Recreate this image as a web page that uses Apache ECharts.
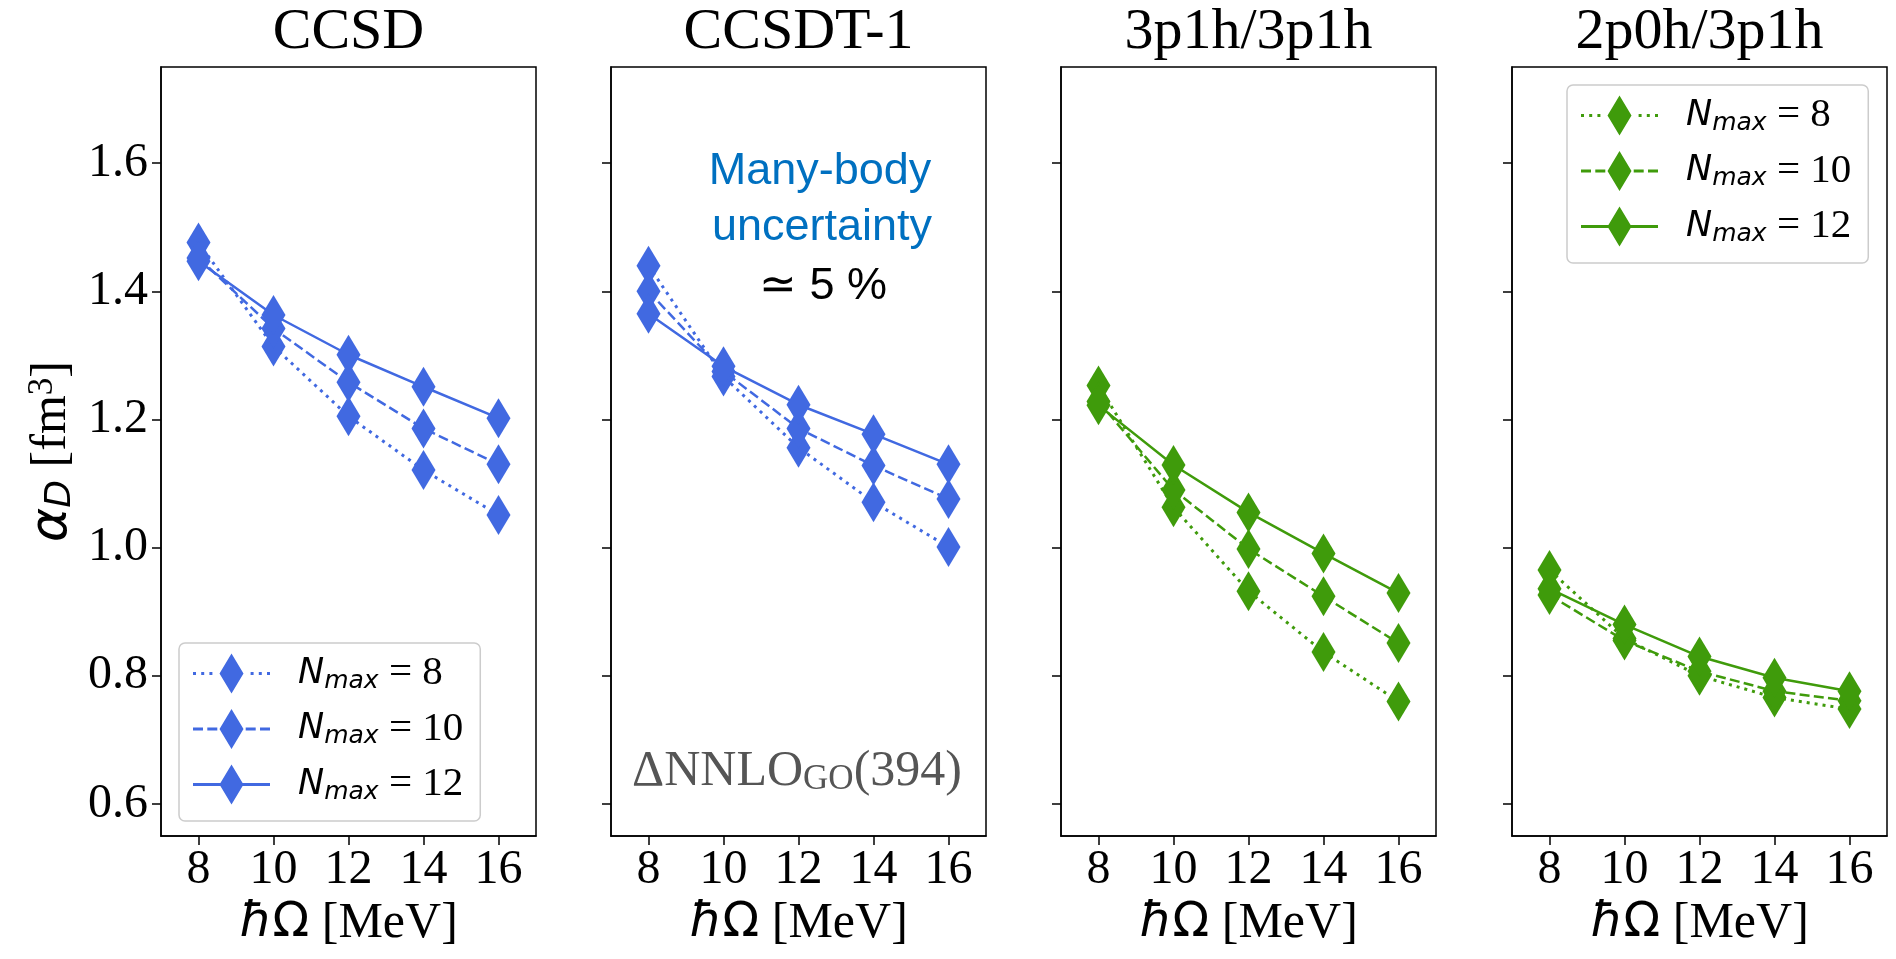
<!DOCTYPE html>
<html>
<head>
<meta charset="utf-8">
<title>alpha_D vs hbar Omega</title>
<script src="https://cdn.jsdelivr.net/npm/echarts@6.0.0/dist/echarts.min.js"></script>
<style>
    html, body { margin: 0; padding: 0; background: #fff; }
    #chart { width: 1896px; height: 959px; }
</style>
</head>
<body>
<div id="chart"></div>
<script>
var hw = [8, 10, 12, 14, 16];
var xTicks = [8, 10, 12, 14, 16];
var yTicks = [0.6, 0.8, 1.0, 1.2, 1.4, 1.6];
var panelTitles = ['CCSD', 'CCSDT-1', '3p1h/3p1h', '2p0h/3p1h'];
var nmaxList = [8, 10, 12];

// alpha_D [fm^3] per Nmax
var ccsdN8   = [1.476, 1.314, 1.205, 1.121, 1.051];
var ccsdN10  = [1.452, 1.342, 1.258, 1.186, 1.130];
var ccsdN12  = [1.447, 1.363, 1.301, 1.251, 1.202];

var ccsdtN8  = [1.440, 1.267, 1.156, 1.071, 1.001];
var ccsdtN10 = [1.400, 1.275, 1.186, 1.128, 1.076];
var ccsdtN12 = [1.365, 1.283, 1.223, 1.177, 1.130];

var p31N8    = [1.253, 1.063, 0.932, 0.837, 0.760];
var p31N10   = [1.228, 1.090, 0.998, 0.924, 0.851];
var p31N12   = [1.222, 1.129, 1.055, 0.991, 0.929];

var p20N8    = [0.965, 0.858, 0.800, 0.766, 0.748];
var p20N10   = [0.926, 0.855, 0.807, 0.776, 0.761];
var p20N12   = [0.936, 0.880, 0.830, 0.797, 0.776];

(function()
{
    var blue = '#4169e1';
    var green = '#3f9b0b';
    var serif = "'Liberation Serif', 'Times New Roman', serif";
    var sans = "'DejaVu Sans', sans-serif";

    var panelData = [
        [ccsdN8, ccsdN10, ccsdN12],
        [ccsdtN8, ccsdtN10, ccsdtN12],
        [p31N8, p31N10, p31N12],
        [p20N8, p20N10, p20N12]
    ];
    var panelColors = [blue, blue, green, green];
    var gridLeft = [161, 611, 1061, 1512];
    var gridTop = 67, gridW = 375, gridH = 769;
    var dashTypes = [[3, 5], [10, 4.3], 'solid'];

    // legend icon: line sample + thin diamond, drawn as one filled path (77 x 40)
    var diamond = 'M26.5 20L38.5 0L50.5 20L38.5 40Z';
    function bar(x0, x1) {
        return 'M' + x0 + ' 18.5H' + x1 + 'V21.5H' + x0 + 'Z';
    }
    var legendIcons = [
        'path://' + bar(0, 3) + bar(8.2, 11.2) + bar(16.4, 19.4) + bar(57.6, 60.6) + bar(65.8, 68.8) + bar(74, 77) + diamond,
        'path://' + bar(0, 10) + bar(14.3, 24.3) + bar(52.7, 62.7) + bar(67, 77) + diamond,
        'path://' + bar(0, 77) + diamond
    ];

    var grids = [], xAxes = [], yAxes = [], series = [];
    var legendNames = [[], [], [], []];
    var nmaxOf = {};

    for (var p = 0; p < 4; p++) {
        grids.push({
            left: gridLeft[p], top: gridTop, width: gridW, height: gridH,
            show: true, borderColor: '#000', borderWidth: 1.5,
            containLabel: false, outerBoundsMode: 'none'
        });
        xAxes.push({
            type: 'value', gridIndex: p, min: 7, max: 17,
            splitLine: { show: false },
            axisLine: { show: true, onZero: false, lineStyle: { color: '#000', width: 1.5 } },
            axisTick: { show: true, length: 9, customValues: xTicks, lineStyle: { color: '#000', width: 1.5 } },
            axisLabel: { customValues: xTicks, fontFamily: serif, fontSize: 48, color: '#000', margin: 10 },
            name: '{h|ħ}{o|Ω}{t| [MeV]}',
            nameLocation: 'middle', nameGap: 62,
            nameTextStyle: {
                rich: {
                    h: { fontFamily: sans, fontStyle: 'italic', fontSize: 48, color: '#000' },
                    o: { fontFamily: sans, fontSize: 48, color: '#000' },
                    t: { fontFamily: serif, fontSize: 50, color: '#000' }
                }
            }
        });
        var yAxis = {
            type: 'value', gridIndex: p, min: 0.55, max: 1.75,
            splitLine: { show: false },
            axisLine: { show: true, onZero: false, lineStyle: { color: '#000', width: 1.5 } },
            axisTick: { show: true, length: 9, customValues: yTicks, lineStyle: { color: '#000', width: 1.5 } },
            axisLabel: {
                show: p === 0, customValues: yTicks, fontFamily: serif, fontSize: 48, color: '#000', margin: 13,
                formatter: function (v) { return v.toFixed(1); }
            }
        };
        if (p === 0) {
            yAxis.name = '{a|α}{d|D}{b| [fm}{c|3}{b|]}';
            yAxis.nameLocation = 'middle';
            yAxis.nameGap = 82;
            yAxis.nameTextStyle = {
                rich: {
                    a: { fontFamily: sans, fontStyle: 'italic', fontSize: 52, color: '#000' },
                    d: { fontFamily: sans, fontStyle: 'italic', fontSize: 36, color: '#000', padding: [18, 0, 0, 0] },
                    b: { fontFamily: serif, fontSize: 50, color: '#000' },
                    c: { fontFamily: serif, fontSize: 35, color: '#000', padding: [0, 0, 18, 0] }
                }
            };
        }
        yAxes.push(yAxis);

        for (var k = 0; k < 3; k++) {
            var name = panelTitles[p] + ' Nmax=' + nmaxList[k];
            nmaxOf[name] = nmaxList[k];
            legendNames[p].push({ name: name, icon: legendIcons[k] });
            var vals = panelData[p][k];
            var pts = [];
            for (var i = 0; i < hw.length; i++) pts.push([hw[i], vals[i]]);
            series.push({
                name: name, type: 'line', xAxisIndex: p, yAxisIndex: p,
                data: pts,
                symbol: 'diamond', symbolSize: [24, 40],
                itemStyle: { color: panelColors[p], borderWidth: 0 },
                lineStyle: { color: panelColors[p], width: k === 0 ? 3 : 2.5, type: dashTypes[k] },
                emphasis: { disabled: true },
                animation: false
            });
        }
    }

    var legendRich = {
        n: { fontFamily: sans, fontStyle: 'italic', fontSize: 35, color: '#000', padding: [0, 0, 0, 23] },
        s: { fontFamily: sans, fontStyle: 'italic', fontSize: 25, color: '#000', padding: [15, 0, 0, 0] },
        e: { fontFamily: serif, fontSize: 41, color: '#000' }
    };
    function legendBox(names, left, top) {
        return {
            data: names, left: left, top: top, orient: 'vertical',
            itemWidth: 77, itemHeight: 40, itemGap: 14.5,
            padding: [10, 17, 16, 14],
            backgroundColor: 'rgba(255,255,255,0.8)',
            borderColor: '#cccccc', borderWidth: 1.5, borderRadius: 6,
            itemStyle: { borderWidth: 0 },
            selectedMode: false,
            formatter: function (name) {
                return '{n|N}{s|max}{e| = ' + nmaxOf[name] + '}';
            },
            textStyle: { rich: legendRich }
        };
    }

    var graphics = [];
    for (var t = 0; t < 4; t++) {
        graphics.push({
            type: 'text', x: gridLeft[t] + gridW / 2, y: 33,
            style: { text: panelTitles[t], fontFamily: serif, fontSize: 58, fill: '#000', align: 'center', verticalAlign: 'middle' }
        });
    }
    var noteFont = "'Liberation Sans', Arial, sans-serif";
    graphics.push({
        type: 'text', x: 820, y: 172,
        style: { text: 'Many-body', fontFamily: noteFont, fontSize: 45, fill: '#0070c0', align: 'center', verticalAlign: 'middle' }
    });
    graphics.push({
        type: 'text', x: 822, y: 228,
        style: { text: 'uncertainty', fontFamily: noteFont, fontSize: 45, fill: '#0070c0', align: 'center', verticalAlign: 'middle' }
    });
    graphics.push({
        type: 'text', x: 823, y: 287,
        style: { text: '≃ 5 %', fontFamily: noteFont, fontSize: 45, fill: '#000', align: 'center', verticalAlign: 'middle' }
    });
    graphics.push({
        type: 'text', x: 797, y: 772,
        style: {
            text: '{m|ΔNNLO}{s|GO}{m|(394)}', align: 'center', verticalAlign: 'middle',
            rich: {
                m: { fontFamily: serif, fontSize: 50, fill: '#555555', color: '#555555' },
                s: { fontFamily: serif, fontSize: 35, fill: '#555555', color: '#555555', padding: [16, 0, 0, 0] }
            }
        }
    });

    var chart = echarts.init(document.getElementById('chart'));
    chart.setOption({
        animation: false,
        backgroundColor: '#fff',
        grid: grids,
        xAxis: xAxes,
        yAxis: yAxes,
        legend: [
            legendBox(legendNames[0], 179, 643),
            legendBox(legendNames[3], 1567, 85)
        ],
        graphic: graphics,
        series: series
    });
    window.addEventListener('resize', function () { chart.resize(); });
})();
</script>
</body>
</html>
